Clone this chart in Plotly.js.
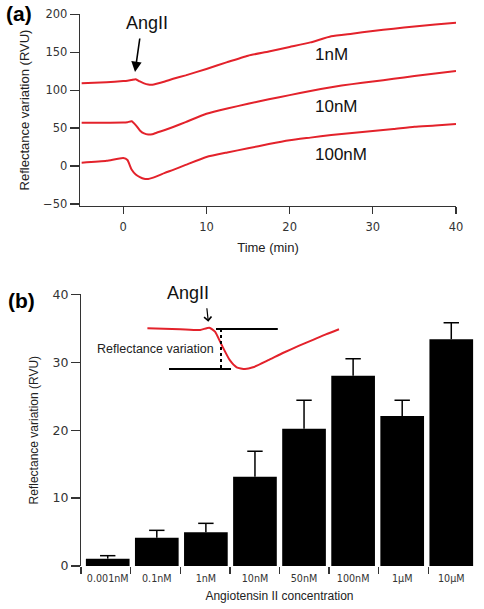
<!DOCTYPE html>
<html>
<head>
<meta charset="utf-8">
<script src="https://cdn.plot.ly/plotly-3.0.1.min.js"></script>
<style>html,body{margin:0;padding:0;background:#fff}#chart{width:484px;height:609px}</style>
</head>
<body>
<div id="chart"></div>
<script>
// ---- Panel (a): time courses ----
const timeMin = [-5, -2, 0, 0.5, 1, 1.5, 2, 2.5, 3, 3.5, 4, 5, 6, 7.5, 10, 12.5, 15, 17.5, 20, 22.5, 25, 27.5, 30, 32.5, 35, 37.5, 40];
const rvu1nM   = [109, 110.5, 112, 112.5, 113.5, 114.5, 111.5, 109, 107.5, 107.3, 108.5, 111.5, 115, 119.5, 128, 137, 145.5, 151, 157, 163, 171, 174.5, 178, 181, 184, 186.5, 189];
const rvu10nM  = [57.2, 57.2, 57.3, 57.8, 59, 54, 47, 43, 41.5, 42, 44, 47.5, 51.5, 58, 69, 76, 82, 88, 93.5, 99, 104, 108, 111.5, 115, 118.7, 122, 125.3];
const rvu100nM = [4.5, 7, 10.5, 8, -4.5, -11, -14.5, -16.8, -17, -15.5, -13.5, -9, -5, 1.5, 12, 18, 23.4, 29, 34, 37.5, 41, 43.5, 46.3, 49, 51.9, 53.5, 55.5];
const seriesNames = ['1nM', '10nM', '100nM'];
const xTicksA = [0, 10, 20, 30, 40];
const yTicksA = [-50, 0, 50, 100, 150, 200];

// ---- Panel (b): bar chart ----
const concentrations = ['0.001nM', '0.1nM', '1nM', '10nM', '50nM', '100nM', '1\u00b5M', '10\u00b5M'];
const meanRVU = [1.08, 4.17, 4.96, 13.15, 20.2, 28.0, 22.1, 33.4];
const semRVU  = [0.44, 1.08, 1.32, 3.75, 4.2, 2.5, 2.3, 2.4];
const yTicksB = [0, 10, 20, 30, 40];
const catBoundaries = [-0.5, 0.5, 1.5, 2.5, 3.5, 4.5, 5.5, 6.5];

// ---- Inset schematic (inset minutes, RVU) ----
const insetT = [-7.7, -3.6, -1.1, 0.04, 0.75, 1.6, 2.6, 3.46, 4.5, 5.5, 7.4, 9.3, 11.2, 13, 14.6, 16.25];
const insetV = [35.0, 34.85, 34.74, 35.09, 34.5, 32.5, 30.3, 29.25, 29.0, 29.25, 30.3, 31.4, 32.4, 33.3, 34.1, 34.85];
const insetUpperT = [0.875, 8.6];
const insetUpperV = [34.9, 34.9];
const insetLowerT = [-5, 2.75];
const insetLowerV = [29.0, 29.0];
const insetDropT = [1.5, 1.5];
const insetDropV = [34.9, 29.0];

const W = 484, H = 609;
const px = v => v / W;
const py = v => 1 - v / H;

const RED = '#e3222b';
const AX = '#333333';
const tickFont = {family: 'DejaVu Sans', size: 11.5, color: '#333'};
const titleFont = {family: 'Liberation Sans, Arial', size: 13, color: '#222'};
const errTop = meanRVU.map((m, i) => m + semRVU[i]);

const traces = [
  {x: timeMin, y: rvu1nM, type: 'scatter', mode: 'lines', line: {color: RED, width: 2, shape: 'spline', smoothing: 0.5}, xaxis: 'x', yaxis: 'y', name: seriesNames[0]},
  {x: timeMin, y: rvu10nM, type: 'scatter', mode: 'lines', line: {color: RED, width: 2, shape: 'spline', smoothing: 0.5}, xaxis: 'x', yaxis: 'y', name: seriesNames[1]},
  {x: timeMin, y: rvu100nM, type: 'scatter', mode: 'lines', line: {color: RED, width: 2, shape: 'spline', smoothing: 0.5}, xaxis: 'x', yaxis: 'y', name: seriesNames[2]},
  {x: concentrations, y: meanRVU, type: 'bar', xaxis: 'x2', yaxis: 'y2',
   marker: {color: '#000', line: {width: 0}},
   error_y: {type: 'data', array: semRVU, arrayminus: semRVU.map(() => 0), symmetric: false, color: '#000', thickness: 1.5, width: 0}},
  {x: concentrations, y: errTop, type: 'scatter', mode: 'markers', xaxis: 'x2', yaxis: 'y2', hoverinfo: 'skip',
   marker: {symbol: 'line-ew', size: 11, color: '#000', line: {color: '#000', width: 1.5}}},
  {x: catBoundaries, y: catBoundaries.map(() => 0), type: 'scatter', mode: 'none', xaxis: 'x4', yaxis: 'y2', hoverinfo: 'skip'},
  {x: insetT, y: insetV, type: 'scatter', mode: 'lines', line: {color: RED, width: 2, shape: 'spline', smoothing: 0.5}, xaxis: 'x3', yaxis: 'y2'},
  {x: insetUpperT, y: insetUpperV, type: 'scatter', mode: 'lines', line: {color: '#000', width: 2}, xaxis: 'x3', yaxis: 'y2'},
  {x: insetLowerT, y: insetLowerV, type: 'scatter', mode: 'lines', line: {color: '#000', width: 2}, xaxis: 'x3', yaxis: 'y2'},
  {x: insetDropT, y: insetDropV, type: 'scatter', mode: 'lines', line: {color: '#000', width: 2, dash: 'dot'}, xaxis: 'x3', yaxis: 'y2'}
];

const layout = {
  width: W, height: H,
  margin: {l: 0, r: 0, t: 0, b: 0},
  paper_bgcolor: '#fff', plot_bgcolor: 'rgba(0,0,0,0)',
  showlegend: false,
  xaxis: {domain: [px(80), px(456)], range: [-5.2, 40], anchor: 'y',
    tickvals: xTicksA, ticks: 'outside', ticklen: 7, tickwidth: 1.3, tickcolor: AX,
    showline: true, linecolor: AX, linewidth: 1.3, showgrid: false, zeroline: false,
    tickfont: tickFont, automargin: false, ticklabelstandoff: 3,
    title: {text: 'Time (min)', font: titleFont, standoff: 9}},
  yaxis: {domain: [py(206), py(14)], range: [-52.6, 200.4], anchor: 'x',
    tickvals: yTicksA, ticks: 'outside', ticklen: 9, tickwidth: 1.3, tickcolor: AX,
    showline: true, linecolor: AX, linewidth: 1.3, showgrid: false, zeroline: false,
    tickfont: tickFont, automargin: false,
    title: {text: 'Reflectance variation (RVU)', font: titleFont, standoff: 10}},
  xaxis2: {domain: [px(81), px(478)], type: 'category', anchor: 'y2',
    ticks: '', showline: false, showgrid: false, zeroline: false,
    tickfont: {family: 'DejaVu Sans', size: 9.6, color: '#333'}, automargin: false, ticklabelstandoff: 5,
    title: {text: 'Angiotensin II concentration', font: {family: 'Liberation Sans, Arial', size: 12, color: '#222'}, standoff: 9}},
  xaxis4: {overlaying: 'x2', anchor: 'y2', range: [-0.5, 7.5], tickvals: catBoundaries,
    ticks: 'outside', ticklen: 7, tickwidth: 1.3, tickcolor: AX, showticklabels: false,
    showline: false, showgrid: false, zeroline: false},
  xaxis3: {overlaying: 'x2', anchor: 'y2', range: [-16, 33.625], visible: false},
  yaxis2: {domain: [py(566), py(294.3)], range: [0, 40], anchor: 'free', position: px(80),
    tickvals: yTicksB, ticks: 'outside', ticklen: 9, tickwidth: 1.3, tickcolor: AX,
    showline: true, linecolor: AX, linewidth: 1.3, showgrid: false, zeroline: false,
    tickfont: {family: 'DejaVu Sans', size: 12.5, color: '#333'}, automargin: false,
    title: {text: 'Reflectance variation (RVU)', font: {family: 'Liberation Sans, Arial', size: 12, color: '#222'}, standoff: 10}},
  bargap: 0.11,
  annotations: [
    {text: '<b>(a)</b>', xref: 'paper', yref: 'paper', x: px(4), y: py(14), xanchor: 'left', yanchor: 'middle', showarrow: false,
     font: {family: 'Liberation Sans, Arial', size: 21, color: '#000'}},
    {text: '<b>(b)</b>', xref: 'paper', yref: 'paper', x: px(6), y: py(300), xanchor: 'left', yanchor: 'middle', showarrow: false,
     font: {family: 'Liberation Sans, Arial', size: 21, color: '#000'}},
    {text: 'AngII', xref: 'paper', yref: 'paper', x: px(147), y: py(23), xanchor: 'center', yanchor: 'middle', showarrow: false,
     font: {family: 'Liberation Sans, Arial', size: 18, color: '#111'}},
    {text: '', xref: 'paper', yref: 'paper', x: px(135), y: py(72), ax: 5, ay: -35, showarrow: true,
     arrowhead: 2, arrowsize: 1.3, arrowwidth: 1.6, arrowcolor: '#000'},
    {text: seriesNames[0], xref: 'x', yref: 'y', x: 22.8, y: 146.4, xanchor: 'left', yanchor: 'middle', showarrow: false,
     font: {family: 'Liberation Sans, Arial', size: 17, color: '#111'}},
    {text: seriesNames[1], xref: 'x', yref: 'y', x: 22.8, y: 78.3, xanchor: 'left', yanchor: 'middle', showarrow: false,
     font: {family: 'Liberation Sans, Arial', size: 17, color: '#111'}},
    {text: seriesNames[2], xref: 'x', yref: 'y', x: 22.8, y: 14.6, xanchor: 'left', yanchor: 'middle', showarrow: false,
     font: {family: 'Liberation Sans, Arial', size: 17, color: '#111'}},
    {text: 'AngII', xref: 'paper', yref: 'paper', x: px(187.5), y: py(292.7), xanchor: 'center', yanchor: 'middle', showarrow: false,
     font: {family: 'Liberation Sans, Arial', size: 18, color: '#111'}},
    {text: '', xref: 'paper', yref: 'paper', x: px(208.3), y: py(321.7), ax: -1.6, ay: -15, showarrow: true,
     arrowhead: 4, arrowsize: 1.2, arrowwidth: 1.2, arrowcolor: '#000'},
    {text: 'Reflectance variation', xref: 'paper', yref: 'paper', x: px(155), y: py(349.3), xanchor: 'center', yanchor: 'middle', showarrow: false,
     font: {family: 'Liberation Sans, Arial', size: 12.5, color: '#222'}}
  ]
};

Plotly.newPlot('chart', traces, layout, {staticPlot: true, displayModeBar: false});
</script>
</body>
</html>
